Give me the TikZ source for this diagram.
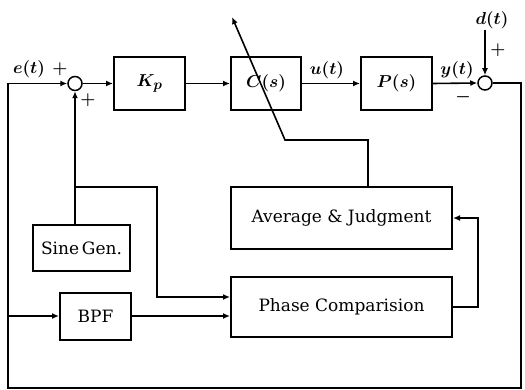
\documentclass[tikz,border=0pt]{standalone}
\usepackage{amsmath}
\usepackage{fontspec}
\newfontfamily\boxfont{DejaVu Serif}
\usetikzlibrary{arrows.meta}
\begin{document}
\begin{tikzpicture}[x=1pt,y=-1pt,
  block/.style={draw,line width=2pt,inner sep=0pt,font=\boxfont\fontsize{17}{20}\selectfont},
  mblock/.style={block,font=\fontsize{19}{22}\selectfont\boldmath},
  sumnode/.style={draw,circle,line width=1.5pt,minimum size=14pt,inner sep=0pt},
  wire/.style={line width=1.6pt},
  arr/.style={wire,-{Latex[length=7pt,width=6pt]}},
  lbl/.style={font=\fontsize{19}{22}\selectfont\boldmath},
  sgn/.style={font=\fontsize{16}{18}\selectfont\boldmath}]
\useasboundingbox (0,0) rectangle (525,390);

% forward path
\node[sumnode] (s1) at (75,83.5) {};
\node[mblock,minimum width=71pt,minimum height=53pt] (kp) at (149.5,83.5) {$K_p$};
\node[mblock,minimum width=70pt,minimum height=53pt] (cs) at (266,83.5) {$C(s)$};
\node[mblock,minimum width=71pt,minimum height=53pt] (ps) at (396.5,83.5) {$P(s)$};
\node[sumnode] (s2) at (485,83) {};

% identification blocks
\node[block,minimum width=221pt,minimum height=62pt] (avg) at (341.5,218) {Average \& Judgment};
\node[block,minimum width=221pt,minimum height=60pt] (pc) at (341.5,307) {Phase Comparision};
\node[block,minimum width=97pt,minimum height=46pt] (sine) at (81.5,248) {Sine\,Gen.};
\node[block,minimum width=71pt,minimum height=47pt] (bpf) at (95.5,316.5) {BPF};

% corner points
\coordinate (dtop) at (485,30);
\coordinate (rt) at (521,83);
\coordinate (rb) at (521,388);
\coordinate (lb) at (8,388);
\coordinate (lt) at (8,83.5);
\coordinate (lbpf) at (8,316);
\coordinate (sb) at (75,187);
\coordinate (sbr) at (157,187);
\coordinate (sbd) at (157,297);
\coordinate (pcr) at (478,307);
\coordinate (avgr) at (478,218);
\coordinate (avt) at (368,187);
\coordinate (avk) at (368,140);
\coordinate (dk) at (285,140);
\coordinate (tip) at (232,17);

% connectors
\draw[arr] (s1) -- (kp);
\draw[arr] (kp) -- (cs);
\draw[arr] (cs) -- (ps);
\draw[arr] (ps.east) -- (s2.west);
\draw[arr] (dtop) -- (s2.north);
\draw[arr] (s2.east) -- (rt) -- (rb) -- (lb) -- (lt) -- (s1.west);
\draw[arr] (lbpf) -- (bpf.west |- lbpf);
\draw[arr] (bpf.east |- lbpf) -- (pc.west |- lbpf);
\draw[arr] (75,225) -- (s1.south);
\draw[arr] (sb) -- (sbr) -- (sbd) -- (pc.west |- sbd);
\draw[arr] (pc.east) -- (pcr) -- (avgr) -- (avg.east);
\draw[arr] (avt) -- (avk) -- (dk) -- (tip);

% signal labels
\node[lbl] (le) at (29,69) {$e(t)$};
\node[lbl] (lu) at (327,70) {$u(t)$};
\node[lbl] (ly) at (457,70) {$y(t)$};
\node[lbl] (ld) at (492,20) {$d(t)$};
\node[sgn] (p1) at (60,69) {$+$};
\node[sgn] (p2) at (88,100) {$+$};
\node[sgn] (m1) at (463,97) {$-$};
\node[sgn] (p3) at (498,50) {$+$};
\end{tikzpicture}
\end{document}
